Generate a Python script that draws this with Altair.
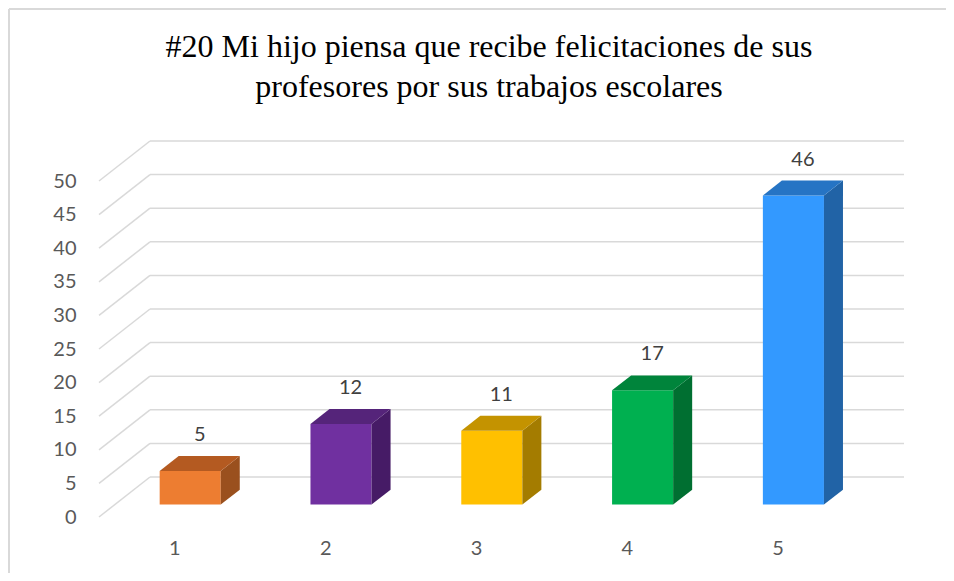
import json
import altair as alt
import pandas as pd

# ---------------- data ----------------
categories = ["1", "2", "3", "4", "5"]
values = [5, 12, 11, 17, 46]
front_colors = ["#ED7D31", "#7030A0", "#FFC000", "#00B050", "#3399FF"]
top_colors = ["#B45A21", "#55247A", "#C49300", "#00843B", "#2674C4"]
side_colors = ["#9A501E", "#461B66", "#A47C00", "#006F31", "#2163A6"]
y_ticks = [0, 5, 10, 15, 20, 25, 30, 35, 40, 45, 50]
title_lines = [
    "#20 Mi hijo piensa que recibe felicitaciones de sus",
    "profesores por sus trabajos escolares",
]

# ---------------- geometry (pseudo-3D) ----------------
PLOT_W, PLOT_H = 805, 376
DEPTH_X_PX, DEPTH_Y_PX = 51, 40
BAR_HALF = 0.2025
F0, F1 = 0.31, 0.683

n = len(categories)
y_max = y_ticks[-1]
kx = (PLOT_W - DEPTH_X_PX) / n
ky = (PLOT_H - DEPTH_Y_PX) / y_max
DX = DEPTH_X_PX / kx
DY = DEPTH_Y_PX / ky
X0 = 0.5
positions = [i + 1 for i in range(n)]

x_scale = alt.Scale(domain=[X0, X0 + n + DX], nice=False, zero=False)
y_scale = alt.Scale(domain=[0, y_max + DY], nice=False, zero=False)

bars = pd.DataFrame({
    "cat": categories, "pos": positions, "value": values,
    "front": front_colors, "top": top_colors, "side": side_colors,
})
bars["xl"] = bars["pos"] - BAR_HALF + F0 * DX
bars["xr"] = bars["pos"] + BAR_HALF + F0 * DX
bars["yb"] = F0 * DY
bars["yt"] = bars["value"] + F0 * DY
bars["xc"] = bars["pos"] + (F0 + F1) / 2 * DX
bars["ylab"] = bars["value"] + F1 * DY

rows = []
for c, p, v, tc, sc in zip(categories, positions, values, top_colors, side_colors):
    for d in (F0, F1):
        rows.append({
            "cat": c, "d": d,
            "x_side": p + BAR_HALF + d * DX,
            "y_top": v + d * DY,
            "y_bot": d * DY,
            "xl": p - BAR_HALF + d * DX,
            "xr": p + BAR_HALF + d * DX,
            "top": tc, "side": sc,
        })
faces = pd.DataFrame(rows)

grid = pd.DataFrame({"t": y_ticks})
grid["x_front"] = X0
grid["x_back"] = X0 + DX
grid["x_end"] = X0 + n + DX
grid["y_back"] = grid["t"] + DY

LABEL_FONT = "Lato"
x_axis = alt.Axis(
    values=positions, title=None, grid=False, domain=False, ticks=False,
    tickSize=0, labelPadding=21, labelFontSize=20, labelFont=LABEL_FONT,
    labelColor="#595959",
    labelExpr=f"{json.dumps(categories)}[datum.value - 1]",
)
y_axis = alt.Axis(
    values=y_ticks, title=None, grid=False, domain=False, ticks=False,
    tickSize=0, labelPadding=23, labelFontSize=20, labelFont=LABEL_FONT,
    labelColor="#595959",
)

GRID_COLOR = "#d9d9d9"


def X(field, **kw):
    return alt.X(field, scale=x_scale, axis=x_axis, **kw)


def Y(field, **kw):
    return alt.Y(field, scale=y_scale, axis=y_axis, **kw)


front_grid = alt.Chart(grid).mark_rule(color=GRID_COLOR, strokeWidth=1.5).encode(
    x=X("x_front:Q"), y=Y("t:Q"), x2="x_back:Q", y2="y_back:Q",
)

back_grid = alt.Chart(grid).mark_rule(color=GRID_COLOR, strokeWidth=1.5).encode(
    x=X("x_back:Q"), x2="x_end:Q", y=Y("y_back:Q"),
)

front_faces = alt.Chart(bars).mark_rect().encode(
    x=X("xl:Q"), x2="xr:Q", y=Y("yb:Q"), y2="yt:Q",
    color=alt.Color("front:N", scale=None),
)

side_faces = alt.Chart(faces).mark_area(orient="vertical").encode(
    x=X("x_side:Q"),
    y=Y("y_top:Q", stack=None),
    y2="y_bot:Q",
    color=alt.Color("side:N", scale=None),
    detail="cat:N",
)

top_faces = alt.Chart(faces).mark_area(orient="horizontal").encode(
    y=Y("y_top:Q"),
    x=X("xl:Q", stack=None),
    x2="xr:Q",
    color=alt.Color("top:N", scale=None),
    detail="cat:N",
)

value_labels = alt.Chart(bars).mark_text(
    font=LABEL_FONT, fontSize=20, color="#404040", dy=-21, baseline="middle"
).encode(
    x=X("xc:Q"), y=Y("ylab:Q"), text="value:Q",
)

one = pd.DataFrame({"k": [0]})
frame_left = alt.Chart(one).mark_rule(color=GRID_COLOR, strokeWidth=2).encode(
    x=alt.value(-90), y=alt.value(-132), y2=alt.value(460)
)
frame_top = alt.Chart(one).mark_rule(color=GRID_COLOR, strokeWidth=2).encode(
    x=alt.value(-90), x2=alt.value(900), y=alt.value(-132)
)

title_mark = alt.Chart(one).mark_text(
    font="Liberation Serif", fontSize=32, color="#000000", lineHeight=39.5,
    align="center", baseline="alphabetic",
).encode(
    x=alt.value(390), y=alt.value(-84), text=alt.value(title_lines),
)

chart = alt.layer(
    front_grid, back_grid, front_faces, side_faces, top_faces, value_labels,
    frame_left, frame_top, title_mark,
).properties(
    width=PLOT_W,
    height=PLOT_H,
    background="white",
    autosize=alt.AutoSizeParams(type="none"),
    padding={"left": 91, "top": 133, "right": 42, "bottom": 56},
).configure_view(strokeWidth=0, stroke="transparent")

chart.save("out.html", embed_options={"renderer": "svg", "actions": False})
